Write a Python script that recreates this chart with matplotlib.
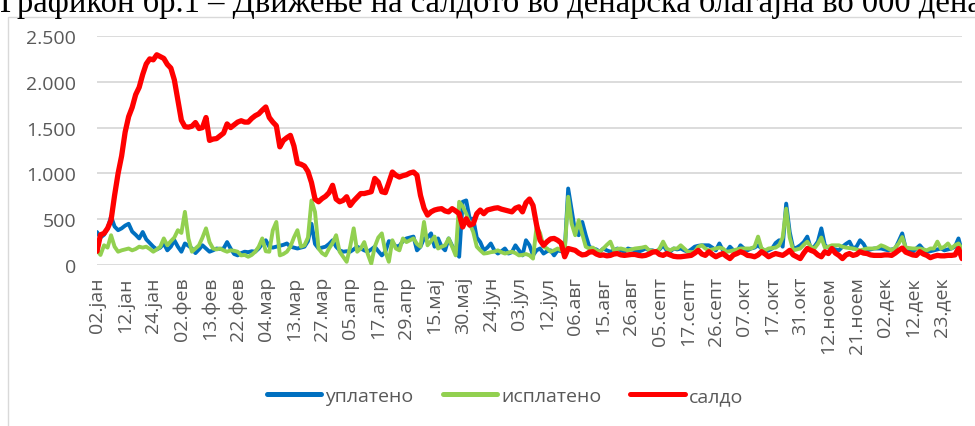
import matplotlib
matplotlib.use('Agg')
import matplotlib.pyplot as plt
from matplotlib.patches import Rectangle
from matplotlib.lines import Line2D

TITLE = 'Графикон бр.1 – Движење на салдото во денарска благајна во 000 денари'

# tick labels (one every 8 points)
DATE_LABELS = ['02.јан', '12.јан', '24.јан', '02.фев', '13.фев', '22.фев', '04.мар',
               '13.мар', '27.мар', '05.апр', '17.апр', '29.апр', '15.мај', '30.мај',
               '24.јун', '03.јул', '12.јул', '06.авг', '15.авг', '26.авг', '05.септ',
               '17.септ', '26.септ', '07.окт', '17.окт', '31.окт', '12.ноем', '21.ноем',
               '02.дек', '12.дек', '23.дек']
LABEL_STEP = 8

SERIES_NAMES = ['уплатено', 'исплатено', 'салдо']

uplateno = [
    360, 300, 330, 400, 530, 420, 380, 400, 430, 450,
    365, 330, 290, 360, 280, 240, 200, 170, 190, 235,
    160, 200, 270, 200, 145, 235, 210, 180, 130, 170,
    215, 180, 145, 160, 180, 175, 180, 250, 180, 120,
    105, 130, 145, 140, 150, 145, 180, 230, 270, 200,
    190, 200, 210, 220, 235, 200, 190, 180, 190, 200,
    260, 450, 230, 180, 190, 200, 230, 270, 200, 160,
    145, 150, 145, 170, 200, 180, 160, 145, 170, 200,
    150, 105, 145, 260, 250, 200, 210, 260, 290, 300,
    310, 160, 200, 290, 300, 345, 200, 290, 200, 160,
    290, 210, 145, 90, 690, 705, 505, 505, 300, 250,
    160, 190, 235, 160, 125, 150, 180, 125, 140, 215,
    160, 105, 270, 215, 105, 160, 180, 125, 150, 160,
    105, 160, 150, 145, 835, 600, 360, 325, 470, 325,
    200, 180, 170, 145, 180, 160, 145, 160, 180, 160,
    145, 180, 170, 160, 145, 160, 180, 160, 160, 145,
    170, 215, 160, 145, 180, 170, 180, 160, 145, 170,
    200, 210, 215, 215, 215, 190, 160, 235, 160, 145,
    200, 160, 145, 215, 180, 160, 180, 190, 215, 180,
    145, 160, 180, 240, 270, 200, 670, 360, 180, 190,
    215, 250, 310, 180, 200, 255, 400, 215, 190, 180,
    170, 160, 200, 230, 255, 180, 200, 270, 230, 160,
    170, 180, 180, 180, 170, 160, 170, 180, 260, 345,
    180, 160, 145, 180, 215, 170, 145, 150, 160, 170,
    180, 160, 170, 180, 200, 290, 145,
]

isplateno = [
    160, 110, 215, 190, 325, 200, 145, 160, 170, 180,
    160, 175, 200, 190, 200, 175, 145, 170, 200, 290,
    215, 260, 300, 380, 350, 580, 290, 145, 180, 215,
    300, 400, 250, 180, 170, 180, 160, 145, 160, 155,
    145, 105, 110, 90, 110, 145, 200, 290, 150, 145,
    380, 470, 105, 120, 145, 200, 300, 380, 200, 215,
    300, 705, 580, 180, 130, 105, 180, 240, 325, 145,
    90, 35, 200, 400, 145, 180, 250, 120, 15, 200,
    300, 345, 145, 35, 270, 180, 160, 290, 250, 270,
    290, 230, 200, 470, 215, 260, 310, 180, 200, 215,
    290, 200, 105, 690, 640, 560, 450, 360, 200, 160,
    125, 130, 140, 145, 160, 140, 125, 135, 145, 130,
    105, 110, 120, 105, 70, 420, 350, 200, 180, 145,
    160, 180, 160, 145, 745, 450, 325, 490, 340, 200,
    180, 190, 160, 145, 180, 220, 255, 160, 175, 180,
    170, 160, 170, 180, 185, 190, 200, 160, 155, 145,
    180, 255, 180, 160, 180, 180, 215, 180, 145, 140,
    145, 200, 215, 180, 160, 170, 180, 190, 180, 145,
    150, 160, 170, 180, 180, 180, 180, 200, 310, 180,
    160, 180, 185, 190, 215, 300, 615, 300, 160, 170,
    180, 220, 255, 200, 180, 230, 300, 190, 200, 215,
    215, 215, 200, 190, 185, 180, 170, 160, 170, 180,
    180, 180, 190, 215, 200, 180, 160, 190, 235, 305,
    190, 185, 180, 180, 180, 170, 160, 180, 180, 255,
    180, 200, 235, 180, 215, 235, 180,
]

saldo = [
    150, 330, 345, 400, 490, 760, 1000, 1190, 1450, 1620,
    1720, 1860, 1940, 2080, 2195, 2250, 2240, 2295, 2275, 2255,
    2190, 2150, 2020, 1800, 1580, 1510, 1505, 1515, 1555, 1490,
    1500, 1610, 1360, 1375, 1380, 1410, 1440, 1540, 1500, 1530,
    1560, 1575, 1560, 1560, 1600, 1630, 1650, 1690, 1725, 1610,
    1560, 1520, 1290, 1360, 1390, 1415, 1300, 1110, 1100, 1080,
    1020, 900, 720, 690, 725, 750, 790, 870, 720, 690,
    705, 745, 650, 700, 740, 780, 780, 790, 800, 945,
    905, 800, 790, 900, 1015, 980, 960, 975, 985, 1005,
    1015, 980, 760, 620, 545, 580, 600, 610, 615, 590,
    580, 615, 590, 560, 415, 505, 435, 450, 560, 600,
    560, 600, 610, 620, 625, 610, 600, 590, 580, 620,
    635, 580, 680, 720, 650, 440, 270, 215, 255, 285,
    290, 270, 240, 90, 180, 170, 160, 130, 110, 115,
    140, 145, 120, 105, 110, 100, 105, 120, 125, 110,
    105, 110, 115, 115, 105, 100, 105, 120, 140, 145,
    115, 105, 125, 110, 95, 90, 90, 95, 100, 105,
    130, 160, 120, 105, 145, 115, 90, 110, 125, 95,
    70, 110, 125, 145, 130, 105, 100, 90, 110, 145,
    120, 90, 110, 125, 115, 105, 130, 160, 110, 90,
    70, 130, 180, 160, 145, 110, 90, 145, 125, 180,
    130, 105, 70, 110, 125, 105, 115, 145, 130, 125,
    110, 105, 105, 105, 110, 110, 105, 130, 160, 185,
    140, 125, 110, 105, 145, 120, 105, 80, 95, 105,
    100, 100, 105, 105, 110, 180, 70,
]

plt.rcParams['font.family'] = ['Open Sans', 'DejaVu Sans']

W, H = 975, 427
fig = plt.figure(figsize=(W / 100, H / 100), dpi=100)

# chart border (cut off at right/bottom like the reference)
fig.patches.append(Rectangle((8 / W, -0.1), 1.2, 1 - 18 / H + 0.1, transform=fig.transFigure,
                             fill=False, edgecolor='#d9d9d9', lw=1))

# title sits partly above the picture, as in the reference
fig.text(0.0, 1 - 12 / H, TITLE, family=['Liberation Serif', 'DejaVu Serif'],
         fontsize=23.5, va='baseline', ha='left', color='black')

ax = fig.add_axes([97 / W, (H - 266) / H, (962 - 97) / W, (266 - 37) / H])

x = list(range(len(saldo)))
ax.plot(x, uplateno, color='#0070C0', lw=2.8, solid_joinstyle='round', solid_capstyle='round')
ax.plot(x, isplateno, color='#92D050', lw=2.8, solid_joinstyle='round', solid_capstyle='round')
ax.plot(x, saldo, color='#FF0000', lw=3.8, solid_joinstyle='round', solid_capstyle='round')

ax.set_xlim(0, len(saldo) - 1)
ax.set_ylim(0, 2500)

ax.set_yticks([0, 500, 1000, 1500, 2000, 2500])
ax.set_yticklabels(['0', '500', '1.000', '1.500', '2.000', '2.500'])
ax.set_xticks(range(0, len(DATE_LABELS) * LABEL_STEP, LABEL_STEP))
ax.set_xticklabels(DATE_LABELS, rotation=90, va='top', ha='center')

ax.tick_params(axis='y', length=0, pad=15, labelsize=14, labelcolor='#595959')
ax.tick_params(axis='x', length=0, pad=8, labelsize=14, labelcolor='#595959')

ax.yaxis.grid(True, color='#d9d9d9', lw=1.3)
ax.set_axisbelow(True)
for s in ax.spines.values():
    s.set_visible(False)

handles = [Line2D([], [], color='#0070C0', lw=3.6, solid_capstyle='round'),
           Line2D([], [], color='#92D050', lw=3.6, solid_capstyle='round'),
           Line2D([], [], color='#FF0000', lw=3.6, solid_capstyle='round')]
fig.legend(handles, SERIES_NAMES, loc='center', bbox_to_anchor=(505 / W, 1 - 397 / H),
           ncol=3, frameon=False, fontsize=14, labelcolor='#595959',
           handlelength=2.8, handletextpad=0.2, columnspacing=1.5)

fig.savefig('out.png', dpi=100)
